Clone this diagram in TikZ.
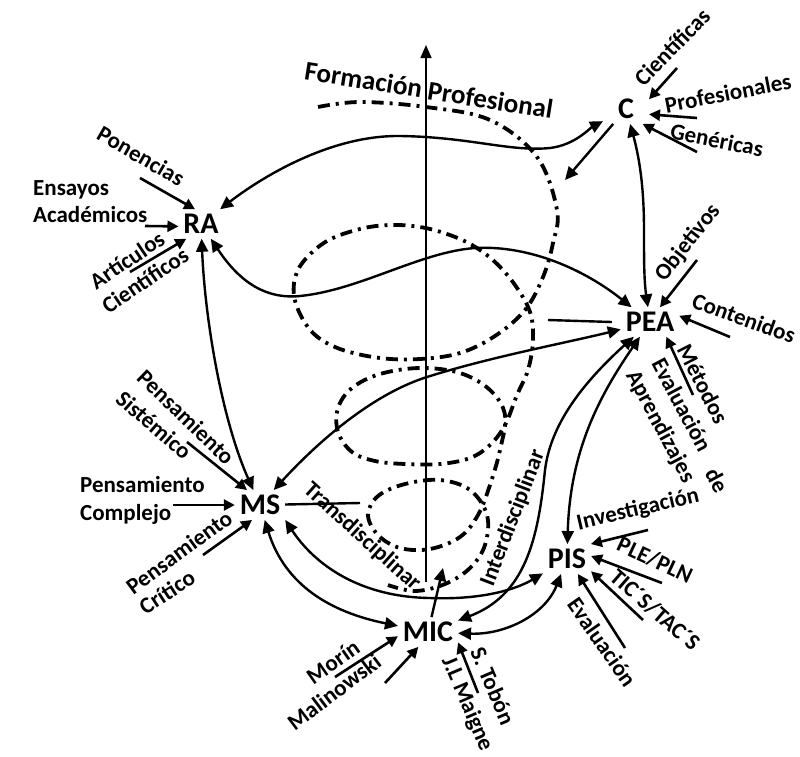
\documentclass[tikz,border=0pt]{standalone}
\usepackage{fontspec}
\setmainfont{Carlito}
\usetikzlibrary{arrows.meta}
\begin{document}
\begin{tikzpicture}[x=1pt,y=-1pt,
  >={Triangle[length=13pt,width=12pt]},
  main/.style={font=\fontsize{30}{32}\selectfont\bfseries, inner sep=2pt, outer sep=3pt},
  lab/.style={font=\fontsize{23}{25}\selectfont\bfseries, inner sep=0pt},
  conn/.style={line width=2.4pt},
  larr/.style={line width=2.6pt,-{Triangle[length=11pt,width=11pt]}},
  helix/.style={line width=3.8pt, dash pattern=on 12pt off 6pt on 3pt off 6pt},
  axisline/.style={line width=1.6pt,-{Triangle[length=13pt,width=11pt]}}
]
\useasboundingbox (0,0) rectangle (800,756);

% spiral of Formacion Profesional
\draw[helix] plot[smooth, tension=0.6] coordinates {
(318,107) (360,102) (426,107) (490,120) (537,157) (557,210) (553,243) (543,277)
(525,310) (495,336) (460,353) (420,359) (380,358) (340,349) (313,333) (297,307)
(294,283) (303,262) (327,241) (360,229) (390,225) (420,227) (447,234) (472,245)
(495,262) (515,285) (530,312) (533,340) (528,370) (517,395) (505,425) (490,445)
(470,458) (440,464) (405,464) (375,461) (352,452) (338,432) (338,408) (352,388)
(380,374) (420,368) (460,373) (490,390) (505,415) (500,450) (490,485) (478,515)
(460,537) (430,549) (400,548) (378,535) (368,515) (378,496) (405,484) (440,480)
(470,490) (487,515) (485,545) (470,568) (445,584) (415,591) (388,585)};

% axis
\coordinate (axB) at (426,582);
\coordinate (axT) at (426,45);
\draw[axisline] (axB) -- (axT);

\node[font=\fontsize{27}{29}\selectfont\bfseries, rotate=-9, inner sep=0pt] (FP) at (429,90) {Formación Profesional};

% main nodes
\node[main] (RA) at (201,224) {RA};
\node[main, minimum width=40pt] (C) at (626,109) {C};
\node[main] (PEA) at (650,322) {PEA};
\node[main] (MS) at (260,505) {MS};
\node[main] (PIS) at (567,559) {PIS};
\node[main] (MIC) at (428,632) {MIC};

% main connectors
\draw[conn,<->] (RA) .. controls (245,190) and (320,135) .. (400,136) .. controls (470,137) and (510,152) .. (550,148) .. controls (575,145) and (590,128) .. (C);
\coordinate (cEnd) at (565,180);
\draw[conn,->] (C) -- (cEnd);
\draw[conn,<->] (C) .. controls (640,160) and (644,190) .. (644,230) .. controls (644,260) and (644,280) .. (PEA);
\draw[conn,<->] (RA) .. controls (235,275) and (260,300) .. (300,296) .. controls (360,290) and (420,252) .. (475,248) .. controls (530,245) and (585,270) .. (PEA);
\coordinate (pl) at (548,320);
\draw[conn] (pl) -- ([xshift=-9pt]PEA.west);
\draw[conn,<->] (MS) .. controls (315,445) and (370,395) .. (427,377) .. controls (490,357) and (570,342) .. (PEA);
\draw[conn,<->] (RA) .. controls (205,320) and (222,420) .. (MS);
\draw[conn,<->] (MS.south east) .. controls (315,565) and (360,597) .. (430,598) .. controls (480,600) and (515,590) .. (PIS);
\draw[conn,<->] (MS) .. controls (285,585) and (330,612) .. (MIC);
\draw[conn,<->] (PEA) .. controls (575,390) and (550,430) .. (545,470) .. controls (538,540) and (525,595) .. (MIC);
\draw[conn,<->] (PEA) .. controls (600,395) and (570,450) .. (PIS);
\draw[conn,<->] (MIC) .. controls (505,635) and (545,615) .. (PIS);
\coordinate (micUp) at (443,568);
\draw[conn,->] (MIC) -- (micUp);
\coordinate (tdEnd) at (360,503);
\draw[conn] (MS) -- (tdEnd);

% RA labels
\node[lab, rotate=-30] (lPon) at (141,156) {Ponencias};
\node[lab, anchor=base west] (lEns) at (33,195) {Ensayos};
\node[lab, anchor=base west] (lAca) at (33,222) {Académicos};
\node[lab, rotate=34] (lArt) at (127,260) {Artículos};
\node[lab, rotate=34] (lCie) at (145,280) {Científicos};
\coordinate (aPon) at (140,178); \draw[larr] (aPon) -- (RA.112);
\coordinate (aEns) at (145,226); \draw[larr] (aEns) -- (RA.186);
\coordinate (aArt) at (130,272); \draw[larr] (aArt) -- (RA.225);

% C labels
\node[lab, rotate=46] (lCfs) at (672,47) {Científicas};
\node[lab, rotate=11] (lPro) at (728,93) {Profesionales};
\node[lab, rotate=-11] (lGen) at (717,140) {Genéricas};
\coordinate (aCie) at (677,68); \draw[larr] (aCie) -- (C.23);
\coordinate (aPro) at (697,118); \draw[larr] (aPro) -- (C.347);
\coordinate (aGen) at (697,152); \draw[larr] (aGen) -- (C.318);

% PEA labels
\node[lab, rotate=52] (lObj) at (688,243) {Objetivos};
\node[lab, rotate=-20] (lCon) at (744,318) {Contenidos};
\node[lab, rotate=-63] (lMet) at (703,384) {Métodos};
\node[lab, rotate=-62] (lEva) at (682,405) {Evaluación};
\node[lab, rotate=-62] (lDe) at (717,480) {de};
\node[lab, rotate=-62] (lApr) at (660,427) {Aprendizajes};
\coordinate (aObj) at (697,260); \draw[larr] (aObj) -- (PEA.56);
\coordinate (aCon) at (730,337); \draw[larr] (aCon) -- (PEA.12);
\coordinate (aMet) at (693,395); \draw[larr] (aMet) -- (PEA.318);

% MS labels
\node[lab, rotate=-44] (lPs1) at (186,417) {Pensamiento};
\node[lab, rotate=-41] (lSis) at (154,425) {Sistémico};
\node[lab, anchor=base west] (lPs2) at (80,492) {Pensamiento};
\node[lab, anchor=base west] (lCom) at (80,520) {Complejo};
\node[lab, rotate=36] (lPs3) at (179,552) {Pensamiento};
\node[lab, rotate=33] (lCri) at (167,592) {Crítico};
\coordinate (aSis) at (187,442); \draw[larr] (aSis) -- (MS.131);
\coordinate (aCom) at (173,505); \draw[larr] (aCom) -- (MS.180);
\coordinate (aCri) at (203,555); \draw[larr] (aCri) -- (MS.242);

% middle labels
\node[lab, rotate=-42] (lTra) at (362,537) {Transdisciplinar};
\node[lab, rotate=69] (lInt) at (513,518) {Interdisciplinar};

% PIS labels
\node[lab, rotate=13] (lInv) at (638,510) {Investigación};
\node[lab, rotate=-25] (lPle) at (655,560) {PLE/PLN};
\node[lab, rotate=-41] (lTic) at (655,610) {TIC´S/TAC´S};
\node[lab, rotate=-55] (lEvp) at (602,642) {Evaluación};
\coordinate (aInv) at (648,530); \draw[larr] (aInv) -- (PIS.32);
\coordinate (aPle) at (662,583); \draw[larr] (aPle) -- (PIS.7);
\coordinate (aTic) at (643,620); \draw[larr] (aTic) -- (PIS.333);
\coordinate (aEvp) at (625,648); \draw[larr] (aEvp) -- (PIS.306);

% MIC labels
\node[lab, rotate=35] (lMor) at (333,662) {Morín};
\node[lab, rotate=37] (lMal) at (334,692) {Malinowski};
\node[lab, rotate=-67] (lTob) at (493,686) {S. Tobón};
\node[lab, rotate=-67] (lMai) at (467,704) {J.L Maigne};
\coordinate (aMor) at (335,677); \draw[larr] (aMor) -- (MIC.188);
\coordinate (aMal) at (385,683); \draw[larr] (aMal) -- (MIC.237);
\coordinate (aTob) at (478,693); \draw[larr] (aTob) -- (MIC.341);
\end{tikzpicture}
\end{document}
